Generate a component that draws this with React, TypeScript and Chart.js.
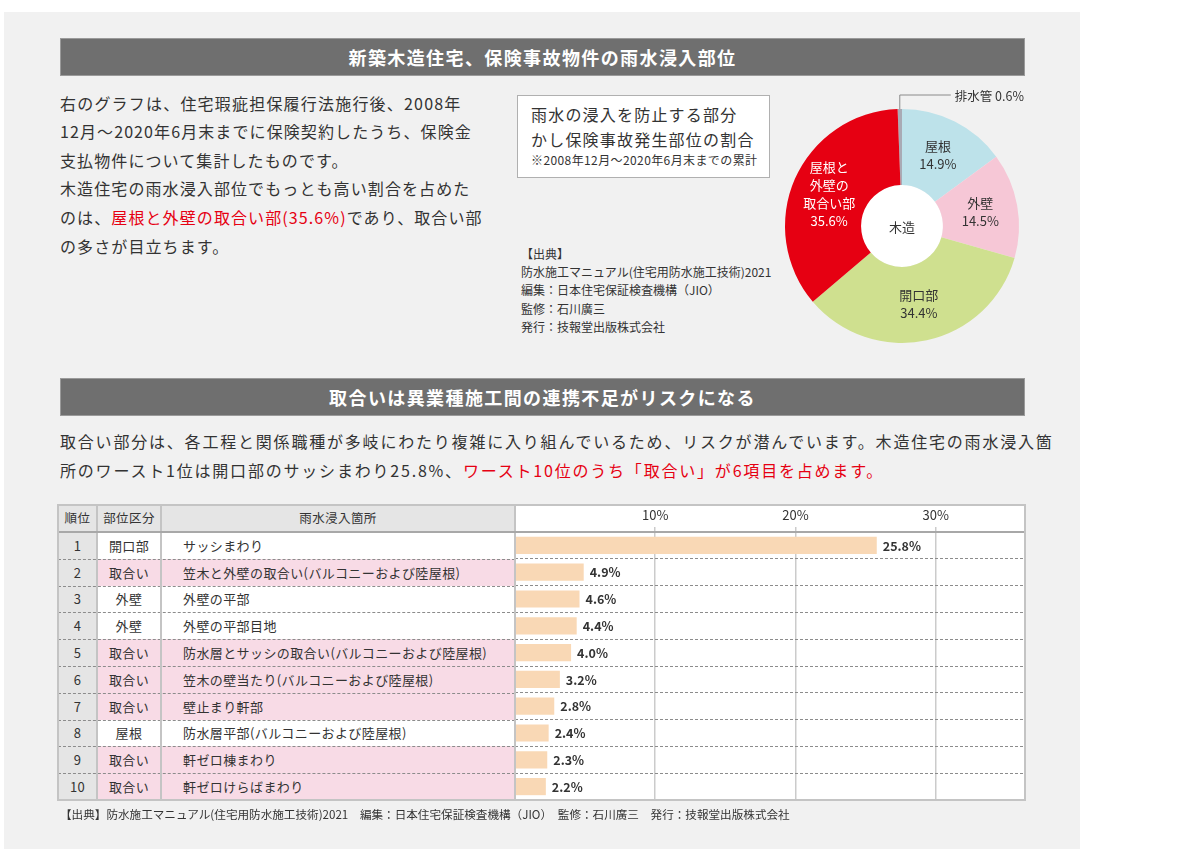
import React, { useEffect, useRef } from 'react';
import { Chart, registerables } from 'chart.js';

Chart.register(...registerables);

const FONT = '"Noto Sans CJK JP", "Noto Sans", sans-serif';
const TEXT = '#333333';
const RED = '#e60012';

// ---- Pie (donut) data ----
const pieNames = ['排水管', '屋根', '外壁', '開口部', '屋根と外壁の取合い部'];
const pieLabelLines = [['排水管'], ['屋根'], ['外壁'], ['開口部'], ['屋根と', '外壁の', '取合い部']];
const pieValues = [0.6, 14.9, 14.5, 34.4, 35.6];
const pieColors = ['#a9aab4', '#bde2ea', '#f6c7d6', '#cfe08f', '#e60012'];
const pieLabelColors = [TEXT, TEXT, TEXT, TEXT, '#ffffff'];
const pieCenterLabel = '木造';

// ---- Ranking table data ----
const ranks = ['1', '2', '3', '4', '5', '6', '7', '8', '9', '10'];
const parts = ['開口部', '取合い', '外壁', '外壁', '取合い', '取合い', '取合い', '屋根', '取合い', '取合い'];
const places = [
  'サッシまわり',
  '笠木と外壁の取合い(バルコニーおよび陸屋根)',
  '外壁の平部',
  '外壁の平部目地',
  '防水層とサッシの取合い(バルコニーおよび陸屋根)',
  '笠木の壁当たり(バルコニーおよび陸屋根)',
  '壁止まり軒部',
  '防水層平部(バルコニーおよび陸屋根)',
  '軒ゼロ棟まわり',
  '軒ゼロけらばまわり',
];
const shares = [25.8, 4.9, 4.6, 4.4, 4.0, 3.2, 2.8, 2.4, 2.3, 2.2];
const axisTicks = [10, 20, 30];
const axisMax = 36.3;
const highlightPart = '取合い';

// ---- layout constants ----
const T_L = 58;
const C1 = 97;
const C2 = 161;
const C3 = 515;
const T_R = 1025;
const H_T = 505;
const B_T = 532;
const T_B = 800;

function PieChart() {
  const ref = useRef<HTMLCanvasElement>(null);
  useEffect(() => {
    const decor = {
      id: 'pieDecor',
      beforeDatasetsDraw(chart: any) {
        const a = chart.getDatasetMeta(0).data[0];
        const ctx = chart.ctx;
        ctx.save();
        ctx.fillStyle = '#ffffff';
        ctx.beginPath();
        ctx.arc(a.x, a.y, a.innerRadius, 0, Math.PI * 2);
        ctx.fill();
        ctx.restore();
      },
      afterDatasetsDraw(chart: any) {
        const ctx = chart.ctx;
        const meta = chart.getDatasetMeta(0);
        ctx.save();
        ctx.textBaseline = 'middle';
        meta.data.forEach((el: any, i: number) => {
          const { x, y, startAngle, endAngle, outerRadius } = el;
          const mid = (startAngle + endAngle) / 2;
          const value = pieValues[i].toFixed(1) + '%';
          if (i === 0) {
            const px = x + Math.cos(mid) * outerRadius;
            const py = y + Math.sin(mid) * outerRadius;
            const ly = y - outerRadius - 14;
            ctx.strokeStyle = '#8a8a8a';
            ctx.lineWidth = 1;
            ctx.beginPath();
            ctx.moveTo(px, py);
            ctx.lineTo(px, ly);
            ctx.lineTo(px + 51, ly);
            ctx.stroke();
            ctx.textAlign = 'left';
            ctx.fillStyle = TEXT;
            ctx.font = `12.5px ${FONT}`;
            ctx.fillText(`${pieLabelLines[0][0]} ${value}`, px + 55, ly + 1);
            return;
          }
          const r = outerRadius * 0.68;
          const cx = x + Math.cos(mid) * r;
          const cy = y + Math.sin(mid) * r;
          const lines = [...pieLabelLines[i], value];
          const gap = 18;
          const top = cy - ((lines.length - 1) * gap) / 2;
          ctx.textAlign = 'center';
          ctx.fillStyle = pieLabelColors[i];
          ctx.font = `13px ${FONT}`;
          lines.forEach((t, k) => ctx.fillText(t, cx, top + k * gap));
        });
        const a = meta.data[0];
        ctx.textAlign = 'center';
        ctx.fillStyle = TEXT;
        ctx.font = `13px ${FONT}`;
        ctx.fillText(pieCenterLabel, a.x, a.y + 1);
        ctx.restore();
      },
    };
    const chart = new Chart(ref.current!, {
      type: 'doughnut',
      data: {
        labels: pieNames,
        datasets: [
          {
            data: pieValues,
            backgroundColor: pieColors,
            borderWidth: 0,
            hoverOffset: 0,
          },
        ],
      },
      options: {
        animation: false,
        responsive: false,
        maintainAspectRatio: false,
        cutout: '35%',
        rotation: -pieValues[0] * 3.6,
        layout: { padding: 23 },
        plugins: { legend: { display: false }, tooltip: { enabled: false } },
      },
      plugins: [decor],
    } as any);
    return () => chart.destroy();
  }, []);
  return (
    <canvas
      ref={ref}
      width={280}
      height={280}
      style={{ position: 'absolute', left: 762, top: 86, width: 280, height: 280 }}
    />
  );
}

function BarChart() {
  const ref = useRef<HTMLCanvasElement>(null);
  useEffect(() => {
    const valueLabels = {
      id: 'valueLabels',
      afterDatasetsDraw(chart: any) {
        const ctx = chart.ctx;
        const meta = chart.getDatasetMeta(0);
        ctx.save();
        ctx.font = `bold 12.5px ${FONT}`;
        ctx.fillStyle = TEXT;
        ctx.textAlign = 'left';
        ctx.textBaseline = 'middle';
        meta.data.forEach((bar: any, i: number) => {
          ctx.fillText(shares[i].toFixed(1) + '%', bar.x + 6, bar.y + 0.5);
        });
        ctx.restore();
      },
    };
    const chart = new Chart(ref.current!, {
      type: 'bar',
      data: {
        labels: places,
        datasets: [
          {
            data: shares,
            backgroundColor: '#f9d8b5',
            borderWidth: 0,
            barPercentage: 0.64,
            categoryPercentage: 1,
          },
        ],
      },
      options: {
        indexAxis: 'y',
        animation: false,
        responsive: false,
        maintainAspectRatio: false,
        layout: { padding: 0 },
        plugins: { legend: { display: false }, tooltip: { enabled: false } },
        scales: {
          x: {
            position: 'top',
            min: 0,
            max: axisMax,
            afterBuildTicks: (s: any) => {
              s.ticks = axisTicks.map((v) => ({ value: v }));
            },
            afterFit: (s: any) => {
              s.height = 27;
            },
            ticks: {
              callback: (v: any) => `${v}%`,
              color: TEXT,
              font: { family: FONT, size: 13 },
              padding: 4,
              maxRotation: 0,
              autoSkip: false,
            },
            grid: { color: '#cbcbcb', lineWidth: 1.5, tickLength: 5, drawTicks: true },
            border: { display: false },
          },
          y: {
            afterFit: (s: any) => {
              s.width = 0;
            },
            ticks: { display: false },
            grid: {
              color: (c: any) =>
                c.index === 0 || c.index === places.length ? 'rgba(0,0,0,0)' : '#8c8c8c',
              lineWidth: 1,
              drawTicks: false,
              offset: true,
            },
            border: { display: false, dash: [3, 2] },
          },
        },
      },
      plugins: [valueLabels],
    } as any);
    return () => chart.destroy();
  }, []);
  return (
    <canvas
      ref={ref}
      width={T_R - 1 - C3}
      height={T_B - H_T}
      style={{ position: 'absolute', left: C3, top: H_T, width: T_R - 1 - C3, height: T_B - H_T, background: '#fff' }}
    />
  );
}

function Text(props: {
  x: number;
  y: number;
  size: number;
  spacing?: number;
  bold?: boolean;
  color?: string;
  children: React.ReactNode;
}) {
  const h = 24;
  return (
    <div
      style={{
        position: 'absolute',
        left: props.x,
        top: props.y - h / 2,
        height: h,
        lineHeight: `${h}px`,
        fontSize: props.size,
        letterSpacing: props.spacing ?? 0,
        fontWeight: props.bold ? 700 : 400,
        color: props.color ?? TEXT,
        whiteSpace: 'nowrap',
      }}
    >
      {props.children}
    </div>
  );
}

function TitleBar(props: { top: number; text: string }) {
  return (
    <div
      style={{
        position: 'absolute',
        left: 60,
        top: props.top,
        width: 965,
        height: 38,
        background: '#6f6f6f',
        boxSizing: 'border-box',
        border: '1px solid #9a9a9a',
        color: '#fff',
        fontWeight: 700,
        fontSize: 18,
        letterSpacing: 1.4,
        lineHeight: '36px',
        textAlign: 'center',
        whiteSpace: 'nowrap',
      }}
    >
      {props.text}
    </div>
  );
}

function Cell(props: {
  l: number;
  r: number;
  t: number;
  h: number;
  bg: string;
  align: 'center' | 'left';
  pad?: number;
  size?: number;
  children: React.ReactNode;
}) {
  return (
    <div
      style={{
        position: 'absolute',
        left: props.l,
        top: props.t,
        width: props.r - props.l,
        height: props.h,
        background: props.bg,
        display: 'flex',
        alignItems: 'center',
        justifyContent: props.align === 'center' ? 'center' : 'flex-start',
        paddingLeft: props.pad ?? 0,
        boxSizing: 'border-box',
        fontSize: props.size ?? 13,
        letterSpacing: 0.4,
        whiteSpace: 'nowrap',
        lineHeight: 1,
      }}
    >
      {props.children}
    </div>
  );
}

export default function App() {
  useEffect(() => {
    document.body.style.margin = '0';
  }, []);
  const rowH = (T_B - B_T) / ranks.length;
  const GRAY = '#e5e5e5';
  const PINK = '#f8dbe6';
  return (
    <div
      style={{
        position: 'absolute',
        left: 0,
        top: 0,
        width: 1200,
        height: 862,
        background: '#fff',
        fontFamily: FONT,
        color: TEXT,
        overflow: 'hidden',
      }}
    >
      <div style={{ position: 'absolute', left: 4, top: 12, width: 1076, height: 837, background: '#f1f1f1' }} />

      <TitleBar top={38} text="新築木造住宅、保険事故物件の雨水浸入部位" />

      <Text x={60} y={103} size={16} spacing={1.2}>右のグラフは、住宅瑕疵担保履行法施行後、2008年</Text>
      <Text x={60} y={131} size={16} spacing={1.1}>12月〜2020年6月末までに保険契約したうち、保険金</Text>
      <Text x={60} y={160} size={16} spacing={1.1}>支払物件について集計したものです。</Text>
      <Text x={60} y={188} size={16} spacing={1.1}>木造住宅の雨水浸入部位でもっとも高い割合を占めた</Text>
      <Text x={60} y={217} size={16} spacing={1.1}>
        のは、<span style={{ color: RED }}>屋根と外壁の取合い部(35.6%)</span>であり、取合い部
      </Text>
      <Text x={60} y={246} size={16} spacing={1.1}>の多さが目立ちます。</Text>

      <div
        style={{
          position: 'absolute',
          left: 517,
          top: 95,
          width: 253,
          height: 83,
          background: '#fff',
          border: '1px solid #b0b0b0',
          boxSizing: 'border-box',
        }}
      />
      <Text x={531} y={114} size={16} spacing={1.2}>雨水の浸入を防止する部分</Text>
      <Text x={531} y={139} size={16} spacing={1.2}>かし保険事故発生部位の割合</Text>
      <Text x={531} y={160} size={12} spacing={0.4}>※2008年12月〜2020年6月末までの累計</Text>

      <Text x={521} y={254} size={12}>【出典】</Text>
      <Text x={521} y={272} size={12}>防水施工マニュアル(住宅用防水施工技術)2021</Text>
      <Text x={521} y={290} size={12}>編集：日本住宅保証検査機構（JIO）</Text>
      <Text x={521} y={309} size={12}>監修：石川廣三</Text>
      <Text x={521} y={327} size={12}>発行：技報堂出版株式会社</Text>

      <PieChart />

      <TitleBar top={378} text="取合いは異業種施工間の連携不足がリスクになる" />

      <Text x={60} y={441} size={16} spacing={1.8}>
        取合い部分は、各工程と関係職種が多岐にわたり複雑に入り組んでいるため、リスクが潜んでいます。木造住宅の雨水浸入箇
      </Text>
      <Text x={60} y={470} size={16} spacing={1.8}>
        所のワースト1位は開口部のサッシまわり25.8%、
        <span style={{ color: RED }}>ワースト10位のうち「取合い」が6項目を占めます。</span>
      </Text>

      {/* table header */}
      <Cell l={T_L} r={C1} t={H_T} h={B_T - H_T} bg={GRAY} align="center" size={12.5}>順位</Cell>
      <Cell l={C1} r={C2} t={H_T} h={B_T - H_T} bg={GRAY} align="center" size={12.5}>部位区分</Cell>
      <Cell l={C2} r={C3} t={H_T} h={B_T - H_T} bg={GRAY} align="center" size={12.5}>雨水浸入箇所</Cell>

      {ranks.map((rk, i) => {
        const t = B_T + i * rowH;
        const bg = parts[i] === highlightPart ? PINK : '#fff';
        return (
          <React.Fragment key={rk}>
            <Cell l={T_L} r={C1} t={t} h={rowH} bg={GRAY} align="center">{rk}</Cell>
            <Cell l={C1} r={C2} t={t} h={rowH} bg={bg} align="center">{parts[i]}</Cell>
            <Cell l={C2} r={C3} t={t} h={rowH} bg={bg} align="left" pad={22}>{places[i]}</Cell>
          </React.Fragment>
        );
      })}
      {ranks.slice(0, -1).map((rk, i) => (
        <div
          key={'d' + rk}
          style={{
            position: 'absolute',
            left: T_L,
            top: Math.round(B_T + (i + 1) * rowH) - 0.5,
            width: C3 - T_L,
            height: 0,
            borderTop: '1px dashed #8c8c8c',
          }}
        />
      ))}

      <BarChart />

      {/* table lines */}
      {[C1, C2, C3].map((x) => (
        <div key={x} style={{ position: 'absolute', left: x - 1, top: H_T, width: 2, height: T_B - H_T, background: '#c4c4c4' }} />
      ))}
      <div style={{ position: 'absolute', left: T_L, top: B_T - 1, width: T_R - T_L, height: 1.5, background: '#a8a8a8' }} />
      <div
        style={{
          position: 'absolute',
          left: T_L - 1,
          top: H_T - 1,
          width: T_R - T_L + 2,
          height: T_B - H_T + 2,
          border: '2px solid #c4c4c4',
          boxSizing: 'border-box',
        }}
      />

      <Text x={60} y={814} size={11.6}>
        【出典】防水施工マニュアル(住宅用防水施工技術)2021　編集：日本住宅保証検査機構（JIO）　監修：石川廣三　発行：技報堂出版株式会社
      </Text>
    </div>
  );
}
